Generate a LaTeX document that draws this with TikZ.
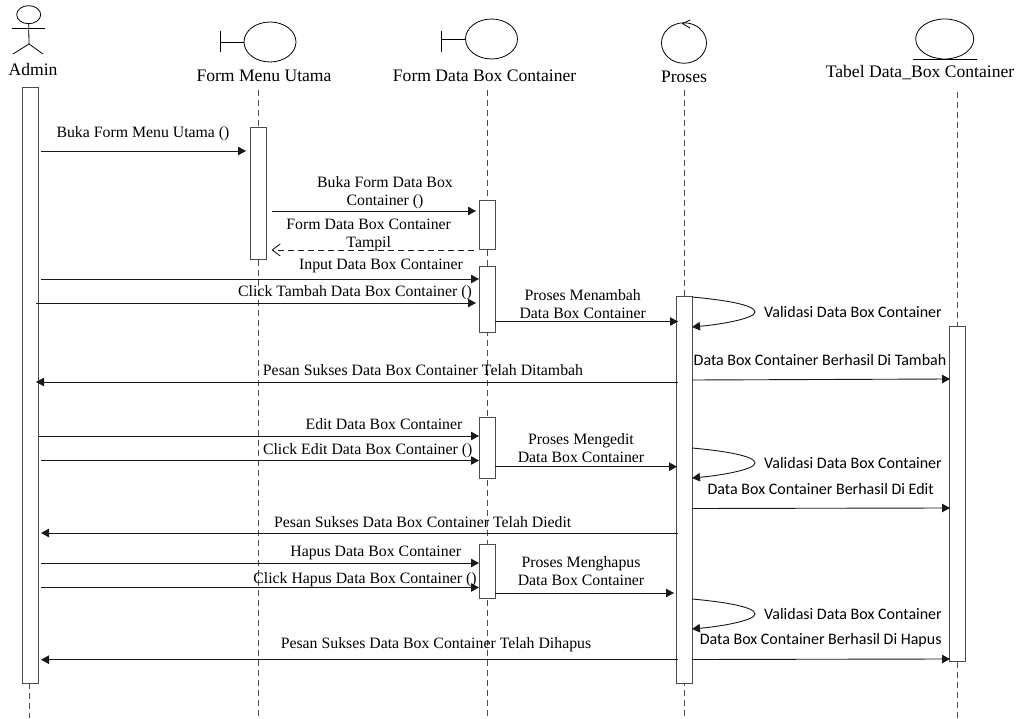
\documentclass[tikz,border=0pt]{standalone}
\usepackage{fontspec}
\setmainfont{Liberation Serif}
\newfontfamily\calibrilike{Carlito}
\usetikzlibrary{arrows.meta,shapes.geometric}

\tikzset{
  lifeline/.style={dashed, dash pattern=on 6pt off 4pt, draw=black!70, line width=0.9pt},
  actbox/.style={draw=black!70, fill=white, line width=1pt, rectangle, inner sep=0pt, minimum width=16pt},
  headball/.style={draw, ellipse, inner sep=0pt, line width=0.8pt},
  figline/.style={line width=0.8pt},
  msg/.style={-{Triangle[length=8pt,width=8.5pt]}, line width=0.9pt, draw=black!90},
  reply/.style={-{Straight Barb[length=8pt,width=12pt]}, dashed, dash pattern=on 6pt off 4pt, line width=0.9pt, draw=black!90},
  titletxt/.style={inner sep=0pt, font=\fontsize{17.6}{20}\selectfont},
  msgtxt/.style={inner sep=0pt, yshift=-1.5pt, align=center, font=\fontsize{15.8}{18}\selectfont},
  sidetxt/.style={inner sep=0pt, font=\calibrilike\fontsize{16}{18}\selectfont}
}

\begin{document}
\begin{tikzpicture}[x=1pt,y=-1pt]
\useasboundingbox (0,0) rectangle (1021,719);

% lifelines
\coordinate (lineAdminTop) at (29,683);
\coordinate (lineAdminEnd) at (29,718);
\coordinate (lineMenuTop) at (258,90);
\coordinate (lineMenuEnd) at (258,717);
\coordinate (lineBoxTop) at (487,90);
\coordinate (lineBoxEnd) at (487,717);
\coordinate (lineProsesTop) at (684,90);
\coordinate (lineProsesEnd) at (684,718);
\coordinate (lineTabelTop) at (957.5,92);
\coordinate (lineTabelEnd) at (957.5,718);
\draw[lifeline] (lineAdminTop) -- (lineAdminEnd);
\draw[lifeline] (lineMenuTop) -- (lineMenuEnd);
\draw[lifeline] (lineBoxTop) -- (lineBoxEnd);
\draw[lifeline] (lineProsesTop) -- (lineProsesEnd);
\draw[lifeline] (lineTabelTop) -- (lineTabelEnd);

% admin figure
\node[headball, minimum width=24pt, minimum height=18pt] (adminHead) at (28.7,14.7) {};
\coordinate (adminHip) at (29,44);
\coordinate (adminArmL) at (12,28);
\coordinate (adminArmR) at (45,28);
\coordinate (adminLegL) at (13,54);
\coordinate (adminLegR) at (43,54);
\draw[figline] (adminHead.south) -- (adminHip);
\draw[figline] (adminArmL) -- (adminArmR);
\draw[figline] (adminLegL) -- (adminHip) -- (adminLegR);
\node[titletxt] (adminLabel) at (33,69) {Admin};

% form menu utama
\node[headball, minimum width=52pt, minimum height=40pt] (menuBall) at (270,42) {};
\coordinate (menuStem) at (220,42);
\coordinate (menuStemA) at (220,31);
\coordinate (menuStemB) at (220,52);
\draw[figline] (menuBall.west) -- (menuStem);
\draw[figline] (menuStemA) -- (menuStemB);
\node[titletxt] (menuLabel) at (264,76) {Form Menu Utama};

% form data box
\node[headball, minimum width=52pt, minimum height=40pt] (boxBall) at (491.5,39) {};
\coordinate (boxStem) at (441,39);
\coordinate (boxStemA) at (441,31);
\coordinate (boxStemB) at (441,52);
\draw[figline] (boxBall.west) -- (boxStem);
\draw[figline] (boxStemA) -- (boxStemB);
\node[titletxt] (boxLabel) at (484.6,76) {Form Data Box Container};

% proses
\node[headball, minimum width=45pt, minimum height=40.5pt] (prosesBall) at (684,43) {};
\coordinate (prosesTip) at (682.7,23.7);
\coordinate (prosesBarbA) at (690,20);
\coordinate (prosesBarbB) at (690,28);
\draw[figline] (prosesBarbA) -- (prosesTip) -- (prosesBarbB);
\node[titletxt] (prosesLabel) at (684,77) {Proses};

% tabel
\node[headball, minimum width=58pt, minimum height=40pt] (tabelBall) at (944.7,39) {};
\coordinate (tabelLineA) at (912.7,59);
\coordinate (tabelLineB) at (976.7,59);
\draw[figline] (tabelLineA) -- (tabelLineB);
\node[titletxt] (tabelLabel) at (920,73) {Tabel Data\_Box Container};

% activation boxes
\node[actbox, minimum height=595pt] (actAdmin) at (30,385.5) {};
\node[actbox, minimum height=131.5pt] (actMenu) at (258,193.3) {};
\node[actbox, minimum height=48.5pt] (actBoxA) at (487,224.8) {};
\node[actbox, minimum height=66pt] (actBoxB) at (487,300) {};
\node[actbox, minimum height=60pt] (actBoxC) at (487,448) {};
\node[actbox, minimum height=54.3pt] (actBoxD) at (487,571.8) {};
\node[actbox, minimum height=386pt] (actProses) at (684,490) {};
\node[actbox, minimum height=335.5pt, minimum width=15.5pt] (actTabel) at (957.7,494.2) {};

% buka form
\coordinate (bukaMenuA) at (41,151);
\coordinate (bukaMenuB) at (246,151);
\draw[msg] (bukaMenuA) -- (bukaMenuB);
\node[msgtxt] (bukaMenuTxt) at (143,132) {Buka Form Menu Utama ()};
\coordinate (bukaBoxA) at (271.5,211);
\coordinate (bukaBoxB) at (476,211);
\draw[msg] (bukaBoxA) -- (bukaBoxB);
\node[msgtxt] (bukaBoxTxt) at (385,191) {Buka Form Data Box\\Container ()};
\coordinate (tampilA) at (474,250);
\coordinate (tampilB) at (271.5,250);
\draw[reply] (tampilA) -- (tampilB);
\node[msgtxt] (tampilTxt) at (368.7,233.5) {Form Data Box Container\\Tampil};

% tambah
\coordinate (inputA) at (41,279);
\coordinate (inputB) at (479,279);
\draw[msg] (inputA) -- (inputB);
\node[msgtxt] (inputTxt) at (381,264) {Input Data Box Container};
\coordinate (tambahA) at (36,303);
\coordinate (tambahB) at (476,303);
\draw[msg] (tambahA) -- (tambahB);
\node[msgtxt] (tambahTxt) at (355,291) {Click Tambah Data Box Container ()};
\coordinate (menambahA) at (495,321.5);
\coordinate (menambahB) at (678,321.5);
\draw[msg] (menambahA) -- (menambahB);
\node[msgtxt] (menambahTxt) at (582.7,302.5) {Proses Menambah\\Data Box Container};
\coordinate (validA) at (692,297);
\coordinate (validB) at (692,327);
\draw[msg] (validA) .. controls (725,300) and (755,305) .. (755,312) .. controls (755,318) and (725,324) .. (validB);
\node[sidetxt] (validTxt) at (853,312) {Validasi Data Box Container};
\coordinate (hasilTambahA) at (692,380);
\coordinate (hasilTambahB) at (950,379);
\draw[msg] (hasilTambahA) -- (hasilTambahB);
\node[sidetxt] (hasilTambahTxt) at (820,360) {Data Box Container Berhasil Di Tambah};
\coordinate (suksesTambahA) at (678,382);
\coordinate (suksesTambahB) at (36,382);
\draw[msg] (suksesTambahA) -- (suksesTambahB);
\node[msgtxt] (suksesTambahTxt) at (423,369) {Pesan Sukses Data Box Container Telah Ditambah};

% edit
\coordinate (editA) at (39,436);
\coordinate (editB) at (479,436);
\draw[msg] (editA) -- (editB);
\node[msgtxt] (editTxt) at (384,423) {Edit Data Box Container};
\coordinate (clickEditA) at (41,460.5);
\coordinate (clickEditB) at (479,460.5);
\draw[msg] (clickEditA) -- (clickEditB);
\node[msgtxt] (clickEditTxt) at (367.7,449) {Click Edit Data Box Container ()};
\coordinate (mengeditA) at (495,466.7);
\coordinate (mengeditB) at (677,466.7);
\draw[msg] (mengeditA) -- (mengeditB);
\node[msgtxt] (mengeditTxt) at (581,447) {Proses Mengedit\\Data Box Container};
\coordinate (validEditA) at (692,448);
\coordinate (validEditB) at (692,478);
\draw[msg] (validEditA) .. controls (725,451) and (755,456) .. (755,463) .. controls (755,469) and (725,475) .. (validEditB);
\node[sidetxt] (validEditTxt) at (853,463) {Validasi Data Box Container};
\coordinate (hasilEditA) at (692,508.5);
\coordinate (hasilEditB) at (950,508);
\draw[msg] (hasilEditA) -- (hasilEditB);
\node[sidetxt] (hasilEditTxt) at (820.7,489) {Data Box Container Berhasil Di Edit};
\coordinate (suksesEditA) at (678,533);
\coordinate (suksesEditB) at (41,533);
\draw[msg] (suksesEditA) -- (suksesEditB);
\node[msgtxt] (suksesEditTxt) at (422.7,521) {Pesan Sukses Data Box Container Telah Diedit};

% hapus
\coordinate (hapusA) at (41,563);
\coordinate (hapusB) at (479,563);
\draw[msg] (hapusA) -- (hapusB);
\node[msgtxt] (hapusTxt) at (375.7,551) {Hapus Data Box Container};
\coordinate (clickHapusA) at (41,587.5);
\coordinate (clickHapusB) at (479,587.5);
\draw[msg] (clickHapusA) -- (clickHapusB);
\node[msgtxt] (clickHapusTxt) at (365,578) {Click Hapus Data Box Container ()};
\coordinate (menghapusA) at (495,593);
\coordinate (menghapusB) at (674,593);
\draw[msg] (menghapusA) -- (menghapusB);
\node[msgtxt] (menghapusTxt) at (581,569.5) {Proses Menghapus\\Data Box Container};
\coordinate (validHapusA) at (692,599);
\coordinate (validHapusB) at (692,629);
\draw[msg] (validHapusA) .. controls (725,602) and (755,607) .. (755,614) .. controls (755,620) and (725,626) .. (validHapusB);
\node[sidetxt] (validHapusTxt) at (853,614) {Validasi Data Box Container};
\coordinate (hasilHapusA) at (692,659.5);
\coordinate (hasilHapusB) at (950,659);
\draw[msg] (hasilHapusA) -- (hasilHapusB);
\node[sidetxt] (hasilHapusTxt) at (820.7,640) {Data Box Container Berhasil Di Hapus};
\coordinate (suksesHapusA) at (678,659.7);
\coordinate (suksesHapusB) at (41,659.7);
\draw[msg] (suksesHapusA) -- (suksesHapusB);
\node[msgtxt] (suksesHapusTxt) at (436,643.5) {Pesan Sukses Data Box Container Telah Dihapus};
\end{tikzpicture}
\end{document}
